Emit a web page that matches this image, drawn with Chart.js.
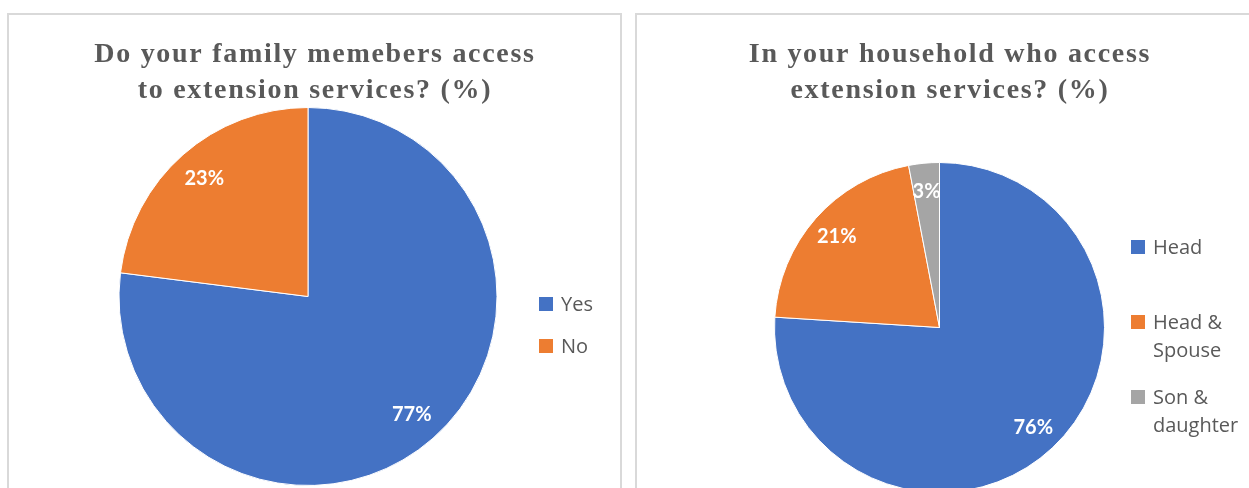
<!DOCTYPE html>
<html>
<head>
<meta charset="utf-8">
<script src="https://cdn.jsdelivr.net/npm/chart.js@4/dist/chart.umd.min.js"></script>
<style>
  html, body { margin: 0; padding: 0; background: #fff; overflow: hidden; width: 1249px; height: 488px; }
  .panel { position: absolute; top: 13px; border: 2px solid #d9d9d9; box-sizing: border-box; background: #fff; }
  #leftPanel { left: 7px; width: 615px; height: 520px; }
  #rightPanel { left: 635px; width: 630px; height: 520px; }
  canvas { position: absolute; left: 0; top: 0; }
</style>
</head>
<body>
<div class="panel" id="leftPanel"><canvas id="leftPie" width="611" height="516"></canvas></div>
<div class="panel" id="rightPanel"><canvas id="rightPie" width="626" height="516"></canvas></div>
<script>
const colours = ['#4472C4', '#ED7D31', '#A5A5A5']

const leftTitle = ['Do your family memebers access', 'to extension services? (%)']
const leftLabels = ['Yes', 'No']
const leftValues = [77, 23]

const rightTitle = ['In your household who access', 'extension services? (%)']
const rightLabels = [['Head'], ['Head &', 'Spouse'], ['Son &', 'daughter']]
const rightValues = [76, 21, 3]

// draws title, percentage labels and legend on the canvas
const extrasPlugin = {
  id: 'extras',
  afterDraw(chart, args, opts) {
    const ctx = chart.ctx
    ctx.save()
    // title
    ctx.fillStyle = '#595959'
    ctx.font = 'bold 28px "Liberation Serif", serif'
    ctx.textAlign = 'center'
    ctx.textBaseline = 'alphabetic'
    if (ctx.letterSpacing !== undefined) ctx.letterSpacing = '1.7px'
    opts.title.forEach((line, i) => {
      ctx.fillText(line, opts.titleX, opts.titleY + i * 36)
    })
    if (ctx.letterSpacing !== undefined) ctx.letterSpacing = '0px'

    // percentage labels
    const meta = chart.getDatasetMeta(0)
    const data = chart.data.datasets[0].data
    const total = data.reduce((a, b) => a + b, 0)
    ctx.fillStyle = '#ffffff'
    ctx.font = 'bold 20px Lato, sans-serif'
    ctx.textBaseline = 'middle'
    meta.data.forEach((arc, i) => {
      const p = arc.getProps(['x', 'y', 'startAngle', 'endAngle', 'outerRadius'], true)
      const mid = (p.startAngle + p.endAngle) / 2
      const r = p.outerRadius * 0.83
      ctx.fillText(Math.round(data[i] / total * 100) + '%', p.x + Math.cos(mid) * r, p.y + Math.sin(mid) * r)
    })

    // legend
    ctx.textAlign = 'left'
    ctx.font = '20px "Open Sans", sans-serif'
    chart.data.labels.forEach((lab, i) => {
      const lines = Array.isArray(lab) ? lab : [lab]
      const y = opts.legendY[i]
      ctx.fillStyle = colours[i]
      ctx.fillRect(opts.legendX, y - 7, 14, 14)
      ctx.fillStyle = '#595959'
      lines.forEach((ln, j) => ctx.fillText(ln, opts.legendX + 22, y + 1 + j * 28))
    })
    ctx.restore()
  }
}

// Left pie
const leftPie = new Chart(document.getElementById('leftPie'), {
  type: 'pie',
  data: {
    labels: leftLabels,
    datasets: [{ data: leftValues, backgroundColor: colours.slice(0, 2), borderColor: '#ffffff', borderWidth: 1 }]
  },
  options: {
    responsive: false,
    animation: false,
    layout: { padding: { left: 109, right: 122, top: 92, bottom: 45 } },
    plugins: {
      legend: { display: false },
      tooltip: { enabled: false },
      extras: { title: leftTitle, titleX: 306, titleY: 47, legendX: 530, legendY: [289, 331] }
    }
  },
  plugins: [extrasPlugin]
})

// Right pie
const rightPie = new Chart(document.getElementById('rightPie'), {
  type: 'pie',
  data: {
    labels: rightLabels,
    datasets: [{ data: rightValues, backgroundColor: colours, borderColor: '#ffffff', borderWidth: 1 }]
  },
  options: {
    responsive: false,
    animation: false,
    layout: { padding: { left: 137, right: 158, top: 147, bottom: 38 } },
    plugins: {
      legend: { display: false },
      tooltip: { enabled: false },
      extras: { title: rightTitle, titleX: 313, titleY: 47, legendX: 494, legendY: [232, 307, 382] }
    }
  },
  plugins: [extrasPlugin]
})
</script>
</body>
</html>
